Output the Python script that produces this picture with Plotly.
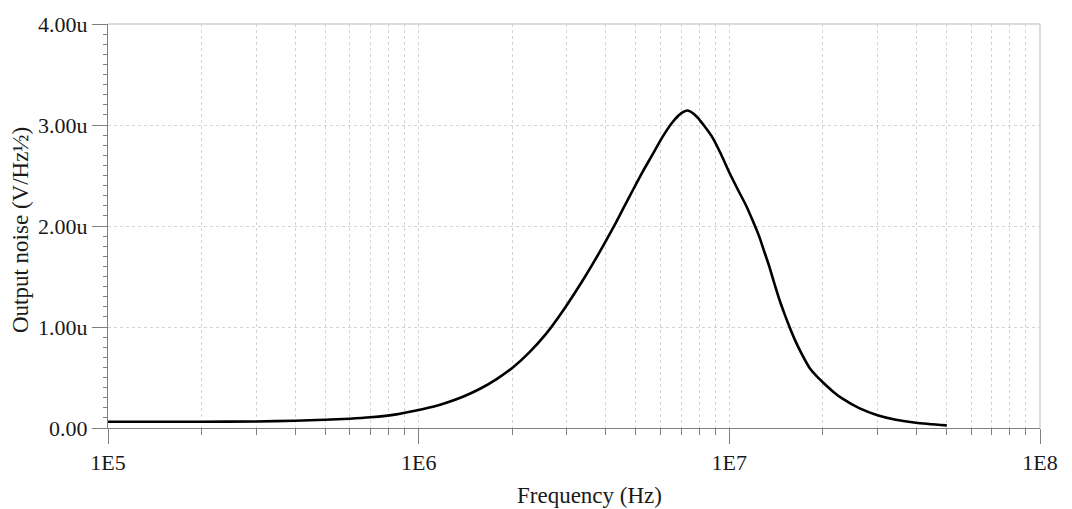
import plotly.graph_objects as go

# Frequency (Hz) and output noise (micro V/sqrt(Hz))
freq_hz = [1e5, 2e5, 3e5, 4e5, 5e5, 6e5, 7e5, 8.48e5, 1.0e6,
           1.112e6, 1.228e6, 1.388e6, 1.571e6, 1.777e6, 2.01e6, 2.275e6, 2.574e6, 2.911e6, 3.376e6,
           3.819e6, 4.216e6, 4.539e6, 4.889e6, 5.264e6, 5.668e6, 6.103e6, 6.572e6, 6.994e6, 7.342e6,
           7.816e6, 8.31e6, 8.839e6, 9.404e6, 1.0e7, 1.063e7, 1.132e7, 1.188e7, 1.249e7, 1.296e7,
           1.345e7, 1.395e7, 1.448e7, 1.503e7, 1.56e7, 1.63e7, 1.70e7, 1.808e7, 1.9e7, 1.995e7,
           2.149e7, 2.314e7, 2.618e7, 2.999e7, 3.436e7, 3.984e7, 5.011e7]
noise_uv = [0.062, 0.062, 0.065, 0.072, 0.082, 0.092, 0.106, 0.135, 0.178,
            0.21, 0.25, 0.31, 0.386, 0.482, 0.60, 0.752, 0.935, 1.159, 1.463,
            1.739, 1.976, 2.164, 2.354, 2.539, 2.711, 2.885, 3.03, 3.115, 3.144,
            3.09, 2.99, 2.873, 2.71, 2.53, 2.366, 2.203, 2.056, 1.892, 1.745,
            1.598, 1.434, 1.275, 1.135, 1.005, 0.865, 0.748, 0.60, 0.52, 0.455,
            0.365, 0.29, 0.197, 0.127, 0.082, 0.052, 0.026]

x_tickvals = [1e5, 1e6, 1e7, 1e8]
x_ticktext = ["1E5", "1E6", "1E7", "1E8"]
x_minor = [m * 10 ** e for e in (5, 6, 7) for m in range(2, 10)]
y_tickvals = [0, 1, 2, 3, 4]
y_ticktext = ["0.00", "1.00u", "2.00u", "3.00u", "4.00u"]
y_midticks = [0.5, 1.5, 2.5, 3.5]

FONT = "Liberation Serif"
AXIS = "#808080"
GRID = "#d4d4d4"

fig = go.Figure()
fig.add_trace(go.Scatter(
    x=freq_hz, y=noise_uv, mode="lines",
    line=dict(color="black", width=2.6, shape="spline", smoothing=0.7),
    showlegend=False, hoverinfo="skip"))

fig.update_layout(
    width=1072, height=509,
    margin=dict(l=108, r=32, t=21, b=81),
    paper_bgcolor="white", plot_bgcolor="white",
    font=dict(family=FONT, size=22, color="#1a1a1a"),
    xaxis=dict(
        type="log", range=[5, 8],
        tickmode="array", tickvals=x_tickvals, ticktext=x_ticktext,
        ticks="outside", ticklen=15, tickcolor=AXIS, tickwidth=1,
        showline=True, linecolor=AXIS, linewidth=1,
        showgrid=True, gridcolor=GRID, griddash="dot", gridwidth=1,
        zeroline=False,
        tickfont=dict(family=FONT, size=22),
        minor=dict(tickmode="array", tickvals=x_minor, ticks="outside",
                   ticklen=6, tickcolor=AXIS, showgrid=True,
                   gridcolor=GRID, griddash="dot", gridwidth=1),
    ),
    yaxis=dict(
        range=[0, 4],
        tickmode="array", tickvals=y_tickvals, ticktext=y_ticktext,
        ticks="outside", ticklen=15, tickcolor=AXIS, tickwidth=1,
        showline=True, linecolor=AXIS, linewidth=1,
        showgrid=True, gridcolor=GRID, griddash="dot", gridwidth=1,
        zeroline=False,
        tickfont=dict(family=FONT, size=22),
        minor=dict(dtick=0.1, ticks="outside", ticklen=4, tickcolor=AXIS,
                   showgrid=False),
    ),
    yaxis2=dict(
        overlaying="y", anchor="x", side="left", range=[0, 4],
        tickmode="array", tickvals=y_midticks, ticks="outside", ticklen=7,
        tickcolor=AXIS, showticklabels=False, showline=False,
        showgrid=False, zeroline=False,
    ),
    shapes=[
        dict(type="line", xref="paper", yref="paper", x0=0, x1=1, y0=1, y1=1,
             line=dict(color="#d0d0d0", width=1.5)),
        dict(type="line", xref="paper", yref="paper", x0=1, x1=1, y0=0, y1=1,
             line=dict(color="#d0d0d0", width=1.5)),
    ],
    annotations=[
        dict(text="Frequency (Hz)", xref="paper", yref="paper",
             x=0.5166, y=-0.166, xanchor="center", yanchor="middle",
             showarrow=False, font=dict(family=FONT, size=23, color="#1a1a1a")),
        dict(text="Output noise (V/Hz½)", xref="paper", yref="paper",
             x=-0.0944, y=0.49, xanchor="center", yanchor="middle",
             textangle=-90, showarrow=False,
             font=dict(family=FONT, size=23, color="#1a1a1a")),
    ],
)

fig.write_html("out.html")
